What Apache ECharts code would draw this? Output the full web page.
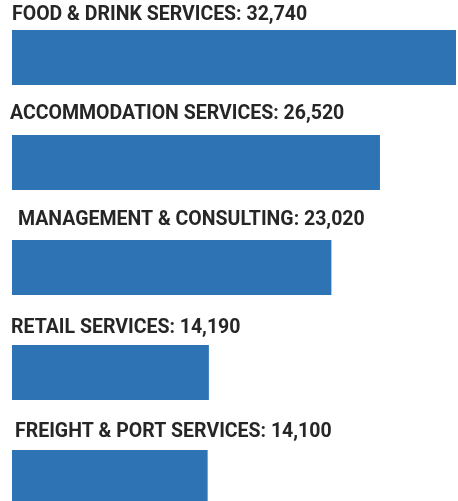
<!DOCTYPE html>
<html>
<head>
<meta charset="utf-8">
<script src="https://cdn.jsdelivr.net/npm/echarts@6/dist/echarts.min.js"></script>
<style>
  html, body { margin: 0; padding: 0; background: #fff; }
  #chart { width: 458px; height: 501px; }
</style>
</head>
<body>
<div id="chart"></div>
<script>
const categories = [
  'FOOD & DRINK SERVICES',
  'ACCOMMODATION SERVICES',
  'MANAGEMENT & CONSULTING',
  'RETAIL SERVICES',
  'FREIGHT & PORT SERVICES'
]
const values = [32740, 26520, 23020, 14190, 14100]

// small nudges so each label sits like in the original
const labelShift = [[0, -5], [-2, -11], [6, -10], [-1, -7], [3, -8]]

let data = []
for (let i in values) {
  data.push({
    value: values[i],
    label: {position: labelShift[i]}
  })
}

const option = {
  animation: false,
  grid: {left: 12, top: 5, width: 444, height: 525, outerBoundsMode: 'none'},
  xAxis: {
    type: 'value',
    min: 0,
    max: 32000,
    show: false
  },
  yAxis: {
    type: 'category',
    inverse: true,
    data: categories,
    show: false
  },
  series: [
    {
      type: 'bar',
      data: data,
      barWidth: 55,
      itemStyle: {color: '#2e74b5'},
      label: {
        show: true,
        verticalAlign: 'bottom',
        align: 'left',
        fontFamily: 'Roboto',
        fontWeight: 'bold',
        fontSize: 19.5,
        color: '#262626',
        formatter: p => categories[p.dataIndex] + ': ' + p.value.toLocaleString('en-US')
      }
    }
  ]
}

const myChart = echarts.init(document.getElementById('chart'))
myChart.setOption(option)
</script>
</body>
</html>
